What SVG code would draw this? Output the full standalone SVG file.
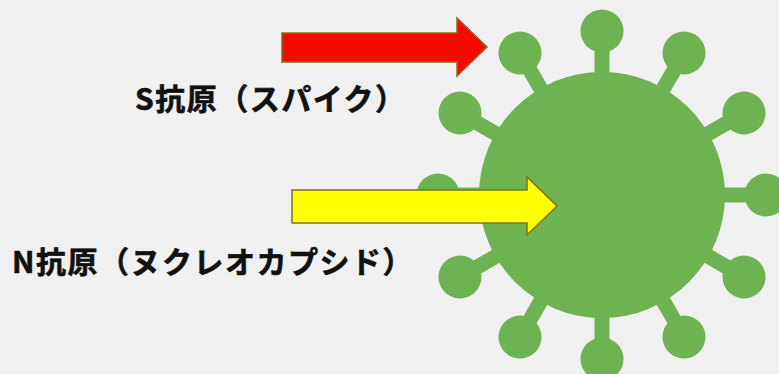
<svg xmlns="http://www.w3.org/2000/svg" xmlns:xlink="http://www.w3.org/1999/xlink" width="779" height="374" viewBox="0 0 779 374">
  <style>
    .label { font-family: "Noto Sans CJK JP", "Noto Sans", sans-serif; font-weight: 700; font-size: 30px; letter-spacing: 1.5px; fill: #111111; stroke: #111111; stroke-width: 0.6; }
    .virus { fill: #6db352; }
    .arrow-red { fill: #f50a00; stroke: #8e6a1c; stroke-width: 1.5; stroke-linejoin: miter; }
    .arrow-yellow { fill: #ffff00; stroke: #807318; stroke-width: 1.5; stroke-linejoin: miter; }
  </style>
  <defs>
    <!-- one spike pointing up from the body centre (602,195) -->
    <g id="spike">
      <rect x="594.5" y="40" width="15" height="90"/>
      <circle cx="602" cy="31" r="21.5"/>
    </g>
  </defs>

  <rect x="0" y="0" width="779" height="374" fill="#f0f0f0"/>

  <!-- virus particle -->
  <g id="virus" class="virus">
    <use xlink:href="#spike"/>
    <use xlink:href="#spike" transform="rotate(30 602 195)"/>
    <use xlink:href="#spike" transform="rotate(60 602 195)"/>
    <use xlink:href="#spike" transform="rotate(90 602 195)"/>
    <use xlink:href="#spike" transform="rotate(120 602 195)"/>
    <use xlink:href="#spike" transform="rotate(150 602 195)"/>
    <use xlink:href="#spike" transform="rotate(180 602 195)"/>
    <use xlink:href="#spike" transform="rotate(210 602 195)"/>
    <use xlink:href="#spike" transform="rotate(240 602 195)"/>
    <use xlink:href="#spike" transform="rotate(270 602 195)"/>
    <use xlink:href="#spike" transform="rotate(300 602 195)"/>
    <use xlink:href="#spike" transform="rotate(330 602 195)"/>
    <circle cx="602" cy="195" r="123"/>
  </g>

  <!-- pointer arrows -->
  <g id="connectors">
    <polygon id="arrow-s" class="arrow-red" points="282,33 457,33 457,18 487,47 457,76 457,62 282,62"/>
    <polygon id="arrow-n" class="arrow-yellow" points="292,190 527,190 527,177 557,206 527,235 527,223 292,223"/>
  </g>

  <g id="label-s">
    <text class="label" x="135" y="110">S抗原（スパイク）</text>
  </g>
  <g id="label-n">
    <text class="label" x="12" y="273">N抗原（ヌクレオカプシド）</text>
  </g>
</svg>
